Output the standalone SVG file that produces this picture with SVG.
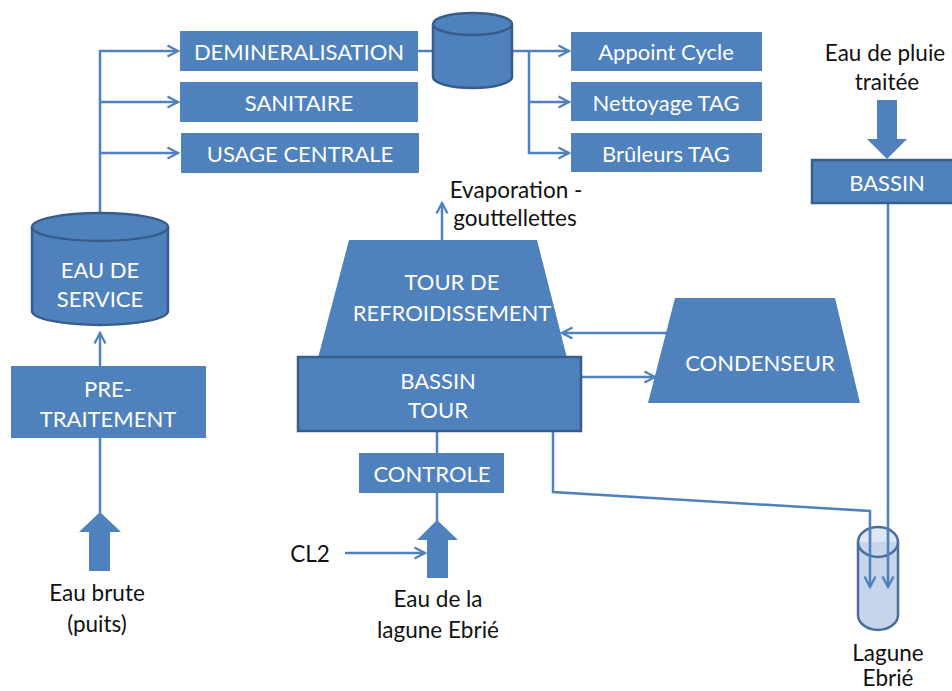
<svg xmlns="http://www.w3.org/2000/svg" width="952" height="691" viewBox="0 0 952 691">
<style>
.box{fill:#4F81BD;}
.bbox{fill:#4F81BD;stroke:#385D8A;stroke-width:2.5;}
.cyl{fill:#4F81BD;stroke:#385D8A;stroke-width:2.5;}
.lt{font-family:Lato,"Liberation Sans",sans-serif;font-size:22px;fill:#ffffff;text-anchor:middle;dominant-baseline:central;}
.dt{font-family:Lato,"Liberation Sans",sans-serif;font-size:22.5px;fill:#111111;text-anchor:middle;dominant-baseline:central;}
.ln{fill:none;stroke:#4F81BD;stroke-width:2.5;}
.arr{marker-end:url(#ah);}
.blk{fill:#4F81BD;}
</style>
<defs>
<marker id="ah" viewBox="0 0 14 14" refX="12" refY="7" markerUnits="userSpaceOnUse" markerWidth="14" markerHeight="14" orient="auto">
<path d="M1.5,1.5 L12,7 L1.5,12.5" fill="none" stroke="#4F81BD" stroke-width="2.3"/>
</marker>
</defs>
<rect width="952" height="691" fill="#ffffff"/>

<g id="connectors">
<polyline class="ln" points="100,213 100,51 178,51" marker-end="url(#ah)"/>
<line class="ln arr" x1="100" y1="102" x2="178" y2="102"/>
<line class="ln arr" x1="100" y1="153" x2="178" y2="153"/>
<line class="ln" x1="418" y1="51" x2="434" y2="51"/>
<line class="ln arr" x1="511" y1="51" x2="569" y2="51"/>
<polyline class="ln" points="529,51 529,153 569,153" marker-end="url(#ah)"/>
<line class="ln arr" x1="529" y1="102" x2="569" y2="102"/>
<line class="ln arr" x1="100" y1="366" x2="100" y2="333"/>
<line class="ln" x1="100" y1="438" x2="100" y2="513"/>
<line class="ln arr" x1="442" y1="240" x2="442" y2="203"/>
<line class="ln arr" x1="667" y1="333" x2="562" y2="333"/>
<line class="ln arr" x1="581" y1="377" x2="655" y2="377"/>
<line class="ln" x1="437" y1="431" x2="437" y2="453"/>
<line class="ln" x1="437" y1="493" x2="437" y2="521"/>
<line class="ln arr" x1="345" y1="553" x2="425" y2="553"/>
<polyline class="ln" points="553,432 553,492 870,511 870,587" marker-end="url(#ah)"/>
<line class="ln arr" x1="888" y1="203" x2="888" y2="587"/>
</g>

<g id="lagune-ebrie">
<path d="M858,542 L858,615 A20,15 0 0 0 898,615 L898,542" fill="#C6D5EC" stroke="#4A6D9C" stroke-width="2.5"/>
<ellipse cx="878" cy="542" rx="20" ry="15" fill="#C6D5EC" fill-opacity="0.6" stroke="#4A6D9C" stroke-width="2.5"/>
<line class="ln" x1="870" y1="527" x2="870" y2="587" marker-end="url(#ah)"/>
<line class="ln" x1="888" y1="527" x2="888" y2="587" marker-end="url(#ah)"/>
<text class="dt" x="888" y="652">Lagune</text>
<text class="dt" x="888" y="677">Ebrié</text>
</g>

<g id="demineralisation"><rect class="box" x="180" y="31" width="238" height="40"/><text class="lt" x="299" y="51">DEMINERALISATION</text></g>
<g id="sanitaire"><rect class="box" x="180" y="82" width="238" height="40"/><text class="lt" x="299" y="102">SANITAIRE</text></g>
<g id="usage-centrale"><rect class="box" x="181" y="133" width="238" height="40"/><text class="lt" x="300" y="153">USAGE CENTRALE</text></g>

<g id="reservoir">
<path class="cyl" d="M433,24 L433,77 A39.5,11 0 0 0 512,77 L512,24"/>
<ellipse class="cyl" cx="472.5" cy="24" rx="39.5" ry="11"/>
</g>

<g id="appoint-cycle"><rect class="box" x="571" y="32" width="191" height="39"/><text class="lt" x="666" y="51">Appoint Cycle</text></g>
<g id="nettoyage-tag"><rect class="box" x="571" y="82" width="191" height="39"/><text class="lt" x="666" y="102">Nettoyage TAG</text></g>
<g id="bruleurs-tag"><rect class="box" x="571" y="133" width="191" height="39"/><text class="lt" x="666" y="153">Brûleurs TAG</text></g>

<g id="eau-de-pluie">
<text class="dt" x="885" y="52">Eau de pluie</text>
<text class="dt" x="887" y="81">traitée</text>
<polygon class="blk" points="877,100 897,100 897,139 907,139 887,159 867,139 877,139"/>
</g>
<g id="bassin-pluie"><rect class="bbox" x="812" y="160" width="150" height="43"/><text class="lt" x="887" y="182">BASSIN</text></g>

<g id="eau-de-service">
<path class="cyl" d="M32,227 L32,311 A68,14 0 0 0 168,311 L168,227"/>
<ellipse class="cyl" cx="100" cy="227" rx="68" ry="14"/>
<text class="lt" x="100" y="269">EAU DE</text>
<text class="lt" x="100" y="298">SERVICE</text>
</g>

<g id="pre-traitement"><rect class="box" x="11" y="366" width="195" height="72"/><text class="lt" x="108" y="388">PRE-</text><text class="lt" x="108" y="418">TRAITEMENT</text></g>

<g id="eau-brute">
<polygon class="blk" points="100,512 121,532 110,532 110,571 89,571 89,532 79,532"/>
<text class="dt" x="97" y="592">Eau brute</text>
<text class="dt" x="97" y="623">(puits)</text>
</g>

<g id="evaporation">
<text class="dt" x="516" y="189">Evaporation -</text>
<text class="dt" x="515" y="217">gouttellettes</text>
</g>

<g id="tour-refroidissement">
<polygon class="box" points="349,240 537,240 567,358 318,358"/>
<text class="lt" x="452" y="281">TOUR DE</text>
<text class="lt" x="452" y="312">REFROIDISSEMENT</text>
</g>

<g id="bassin-tour"><rect class="bbox" x="298" y="357" width="283" height="74"/><text class="lt" x="438" y="380">BASSIN</text><text class="lt" x="438" y="409">TOUR</text></g>

<g id="condenseur">
<polygon class="box" points="675,298 835,298 860,403 648,403"/>
<text class="lt" x="760" y="362">CONDENSEUR</text>
</g>

<g id="controle"><rect class="box" x="359" y="453" width="145" height="40"/><text class="lt" x="432" y="473">CONTROLE</text></g>

<g id="eau-lagune">
<polygon class="blk" points="437,520 458,540 448,540 448,578 427,578 427,540 417,540"/>
<text class="dt" x="438" y="598">Eau de la</text>
<text class="dt" x="438" y="629">lagune Ebrié</text>
</g>

<g id="cl2"><text class="dt" x="310" y="553">CL2</text></g>
</svg>
